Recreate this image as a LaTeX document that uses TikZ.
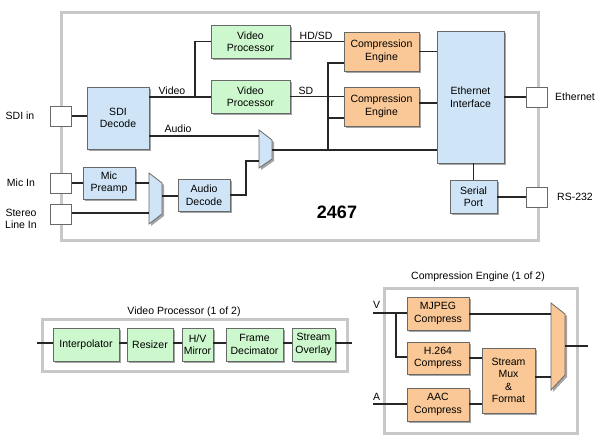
\documentclass[tikz,border=0pt]{standalone}
\usepackage{fontspec}
\setmainfont{Liberation Sans}
\usetikzlibrary{shadows,calc}
\definecolor{vpgreen}{RGB}{205,247,205}
\definecolor{dblue}{RGB}{207,229,247}
\definecolor{ceorange}{RGB}{250,200,150}
\definecolor{contgray}{RGB}{200,200,200}
\definecolor{boxline}{RGB}{105,105,105}
\definecolor{shadgray}{RGB}{165,165,165}
\tikzset{
  blk/.style={draw=boxline, line width=0.8pt, align=center, inner sep=0pt,
    font=\fontsize{10.5}{12.5}\selectfont,
    general shadow={fill=shadgray, shadow xshift=2pt, shadow yshift=-2pt}},
  green/.style={blk, fill=vpgreen},
  blue/.style={blk, fill=dblue},
  orange/.style={blk, fill=ceorange},
  port/.style={draw=boxline, line width=0.8pt, fill=white, minimum width=21pt, minimum height=20pt, inner sep=0pt},
  cont/.style={draw=contgray, line width=3pt},
  wire/.style={line width=1.3pt, black!85},
  lbl/.style={font=\fontsize{10.5}{12.5}\selectfont, align=center, inner sep=0pt},
  muxshadow/.style={fill=shadgray, draw=none},
}
\begin{document}
\begin{tikzpicture}[x=1pt,y=-1pt]
\useasboundingbox (0,0) rectangle (599,442);
% ===== main container =====
\draw[cont] (61,12) rectangle (538,240);
\node[lbl, font=\fontsize{18}{20}\selectfont\bfseries] (title) at (337,212) {2467};

% ports
\node[port] (sdip) at (61,116) {};
\node[port] (micp) at (61,183) {};
\node[port] (stp) at (61,214) {};
\node[port] (ethp) at (537,97) {};
\node[port] (rsp) at (537,197) {};
\node[lbl] (sdil) at (20,116) {SDI in};
\node[lbl] (micl) at (21,183) {Mic In};
\node[lbl] (stl) at (21,219) {Stereo\\Line In};
\node[lbl] (ethl) at (575,97) {Ethernet};
\node[lbl] (rsl) at (575,197) {RS-232};

% blocks
\node[blue, minimum width=62pt, minimum height=62pt] (sdi) at (118,118) {SDI\\Decode};
\node[green, minimum width=79pt, minimum height=33pt] (vp1) at (250.5,41.5) {Video\\Processor};
\node[green, minimum width=79pt, minimum height=33pt] (vp2) at (250.5,96.5) {Video\\Processor};
\node[orange, minimum width=75pt, minimum height=39pt] (ce1) at (381.5,51.5) {Compression\\Engine};
\node[orange, minimum width=75pt, minimum height=39pt] (ce2) at (381.5,106.5) {Compression\\Engine};
\node[blue, minimum width=67pt, minimum height=132pt] (eth) at (470.5,97) {Ethernet\\Interface};
\node[blue, minimum width=47pt, minimum height=33pt] (ser) at (473.5,196.5) {Serial\\Port};
\node[blue, minimum width=52pt, minimum height=32pt] (mic) at (109,183) {Mic\\Preamp};
\node[blue, minimum width=52pt, minimum height=32pt] (adec) at (204,195) {Audio\\Decode};

% mux 1
\fill[muxshadow] (151,175) -- (164,185) -- (164,216) -- (151,226) -- cycle;
\draw[draw=boxline, line width=0.8pt, fill=dblue] (149,173) -- (162,183) -- (162,214) -- (149,224) -- cycle;
\coordinate (m1a) at (149,183);
\coordinate (m1b) at (149,213);
\coordinate (m1o) at (162,196);
% mux 2
\fill[muxshadow] (261,132) -- (274,142) -- (274,161) -- (261,170) -- cycle;
\draw[draw=boxline, line width=0.8pt, fill=dblue] (259,130) -- (272,140) -- (272,159) -- (259,168) -- cycle;
\coordinate (m2a) at (259,136);
\coordinate (m2b) at (259,161);
\coordinate (m2o) at (272,150);

% wires
\draw[wire] (sdip.east |- 0,116) -- (sdi.west |- 0,116);
\draw[wire] (micp.east) -- (mic.west);
\draw[wire] (mic.east) -- (m1a);
\draw[wire] (stp.east |- m1b) -- (m1b);
\draw[wire] (m1o) -- (adec.west |- m1o);
\coordinate (adj) at (246,195);
\draw[wire] (adec.east |- adj) -- (adj) |- (m2b);
\draw[wire] (sdi.east |- m2a) -- (m2a);
\node[lbl, anchor=base] (audl) at (178,132) {Audio};
\coordinate (vbr) at (195,97);
\draw[wire] (sdi.east |- vbr) -- (vp2.west |- vbr);
\draw[wire] (vbr) |- (vp1.west);
\node[lbl, anchor=base] (vidl) at (172,94) {Video};
\draw[wire] (vp1.east) -- (ce1.west |- vp1.east);
\node[lbl, anchor=base] (hdl) at (316,39) {HD/SD};
\draw[wire] (vp2.east) -- (ce2.west |- vp2.east);
\node[lbl, anchor=base] (sdl) at (306,94) {SD};
\coordinate (busb) at (328,150);
\coordinate (bust) at (328,63);
\draw[wire] (m2o) -- (eth.west |- m2o);
\draw[wire] (busb) -- (bust) -- (ce1.west |- bust);
\draw[wire] (328,118) -- (ce2.west |- 0,118);
\draw[wire] (ce1.east) -- (eth.west |- ce1.east);
\draw[wire] (ce2.east |- 0,103) -- (eth.west |- 0,103);
\draw[wire] (eth.east |- ethp) -- (ethp.west);
\draw[wire] (ser.north) -- (ser.north |- eth.south);
\draw[wire] (ser.east |- rsp) -- (rsp.west);

% ===== Video Processor detail =====
\node[lbl] (vptitle) at (184,312) {Video Processor (1 of 2)};
\draw[cont] (42,319) rectangle (347,371);
\node[green, minimum width=66pt, minimum height=33pt] (ip) at (86,344.5) {Interpolator};
\node[green, minimum width=46pt, minimum height=33pt] (rz) at (150,344.5) {Resizer};
\node[green, minimum width=31pt, minimum height=33pt] (hv) at (197.5,344.5) {H/V\\Mirror};
\node[green, minimum width=57pt, minimum height=33pt] (fd) at (254.5,344.5) {Frame\\Decimator};
\node[green, minimum width=43pt, minimum height=33pt] (so) at (313.5,344.5) {Stream\\Overlay};
\coordinate (vpin) at (37,343);
\coordinate (vpout) at (352,343);
\draw[wire] (vpin) -- (ip.west |- vpin);
\draw[wire] (ip.east |- vpin) -- (rz.west |- vpin);
\draw[wire] (rz.east |- vpin) -- (hv.west |- vpin);
\draw[wire] (hv.east |- vpin) -- (fd.west |- vpin);
\draw[wire] (fd.east |- vpin) -- (so.west |- vpin);
\draw[wire] (so.east |- vpin) -- (vpout);

% ===== Compression Engine detail =====
\node[lbl] (cetitle) at (478,277) {Compression Engine (1 of 2)};
\draw[cont] (384,288) rectangle (577,433);
\node[orange, minimum width=62pt, minimum height=33pt] (mj) at (438,313.5) {MJPEG\\Compress};
\node[orange, minimum width=62pt, minimum height=32pt] (h264) at (438,358) {H.264\\Compress};
\node[orange, minimum width=62pt, minimum height=33pt] (aac) at (438,404.5) {AAC\\Compress};
\node[orange, minimum width=53pt, minimum height=65pt] (smx) at (508.5,380.5) {Stream\\Mux\\\&\\Format};
% mux 3
\fill[muxshadow] (553,305) -- (567,316) -- (567,377) -- (553,392) -- cycle;
\draw[draw=boxline, line width=0.8pt, fill=ceorange] (551,303) -- (565,314) -- (565,375) -- (551,390) -- cycle;
\coordinate (m3a) at (551,314);
\coordinate (m3b) at (551,377);
\coordinate (m3o) at (565,346);
\coordinate (m3end) at (588,346);
\coordinate (vin) at (373,313);
\coordinate (ain) at (373,404);
\coordinate (vbr2) at (396,313);
\node[lbl, anchor=base west] (vl) at (373,308) {V};
\node[lbl, anchor=base west] (al) at (373,400) {A};
\draw[wire] (vin) -- (mj.west |- vin);
\draw[wire] (vbr2) |- (h264.west |- 0,357);
\draw[wire] (ain) -- (aac.west |- ain);
\draw[wire] (mj.east |- m3a) -- (m3a);
\draw[wire] (h264.east) -- (smx.west |- h264.east);
\draw[wire] (aac.east |- ain) -- (smx.west |- ain);
\draw[wire] (smx.east |- m3b) -- (m3b);
\draw[wire] (m3o) -- (m3end);
\end{tikzpicture}
\end{document}
